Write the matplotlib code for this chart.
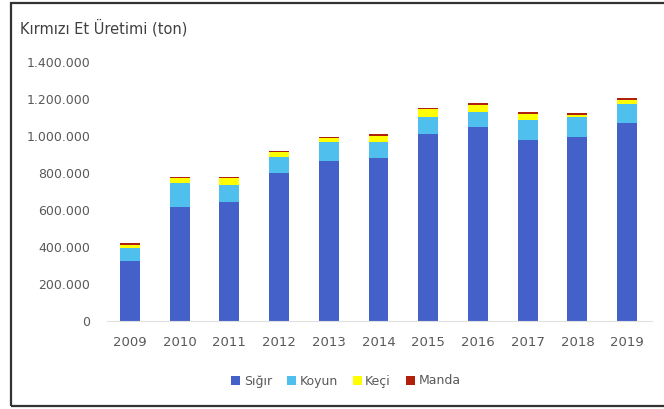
import numpy as np
import matplotlib
matplotlib.use("Agg")
from matplotlib import pyplot as plt
from matplotlib.ticker import FuncFormatter

years = ["2009", "2010", "2011", "2012", "2013", "2014", "2015", "2016", "2017", "2018", "2019"]
sigir = [325000, 618000, 641000, 798000, 866000, 879000, 1011000, 1050000, 978000, 996000, 1068000]
koyun = [72000, 128000, 95000, 90000, 100000, 90000, 93000, 81000, 108000, 105000, 103000]
keci = [15000, 28000, 38000, 23000, 22000, 32000, 41000, 38000, 32000, 12000, 22000]
manda = [7000, 7000, 7000, 9000, 8000, 8000, 8000, 8000, 10000, 9000, 10000]

series = ["Sığır", "Koyun", "Keçi", "Manda"]
colors = ["#4361c9", "#4fc0ee", "#ffff00", "#b0200a"]

fig = plt.figure(figsize=(6.64, 4.09), dpi=100)
fig.patch.set_facecolor("white")

# outer frame of the chart box
frame = plt.Rectangle((11/664, 3/409), 1.1, (406-3)/409, transform=fig.transFigure,
                      fill=False, edgecolor="#333333", linewidth=1.6)
fig.patches.append(frame)

ax = fig.add_axes([107/664, 88/409, (652-107)/664, (347-88)/409])
x = np.arange(len(years))
bottom = np.zeros(len(years))
for name, vals, c in zip(series, [sigir, koyun, keci, manda], colors):
    ax.bar(x, vals, width=0.4, bottom=bottom, color=c, label=name)
    bottom += np.array(vals)

ax.set_xlim(-0.46, 10.5)
ax.set_ylim(0, 1400000)
ax.set_yticks(np.arange(0, 1400001, 200000))
ax.yaxis.set_major_formatter(FuncFormatter(lambda v, p: f"{int(v):,}".replace(",", ".")))
ax.set_xticks(x)
ax.set_xticklabels(years)
ax.tick_params(axis="both", length=0, colors="#595959")
ax.tick_params(axis="y", labelsize=9, pad=12)
ax.tick_params(axis="x", labelsize=9.5, pad=11)
for s in ["top", "right", "left"]:
    ax.spines[s].set_visible(False)
ax.spines["bottom"].set_color("#e0e0e0")

fig.text(20/664, 1 - 28/409, "Kırmızı Et Üretimi (ton)", fontsize=10.5, color="#404040", va="center")

fig.legend(loc="center", bbox_to_anchor=(346/664, 1 - 381/409), ncol=4, frameon=False,
           fontsize=9, handlelength=0.7, handleheight=0.7, handletextpad=0.3,
           columnspacing=1.2, labelcolor="#595959")

fig.savefig("out.png", dpi=100)
